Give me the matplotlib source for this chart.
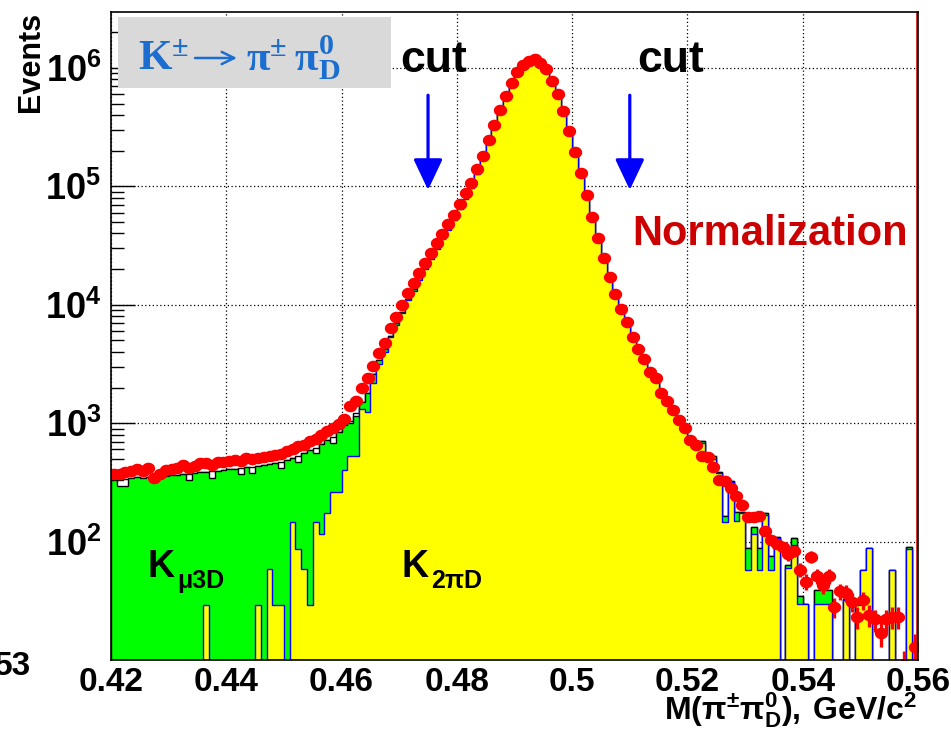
import numpy as np
import matplotlib.pyplot as plt
from matplotlib.patches import Rectangle
from matplotlib.path import Path
from matplotlib.ticker import FixedLocator, LogLocator, NullFormatter

plt.rcParams['font.family'] = ['Liberation Sans', 'DejaVu Sans']
plt.rcParams['font.weight'] = 'bold'
plt.rcParams['mathtext.fontset'] = 'custom'
plt.rcParams['mathtext.rm'] = 'Liberation Serif:bold'
plt.rcParams['mathtext.bf'] = 'Liberation Sans:bold'

# 140 bins of 1 MeV/c^2 between 0.42 and 0.56 GeV/c^2
edges = np.round(np.linspace(0.42, 0.56, 141), 4)
centers = 0.5 * (edges[:-1] + edges[1:])

data_counts = [
    375, 375, 385, 392, 410, 392, 419, 344, 375, 405,
    407, 419, 447, 419, 438, 461, 461, 447, 467, 470,
    476, 485, 476, 508, 498, 508, 519, 525, 542, 553,
    578, 605, 637, 659, 701, 736, 794, 853, 902, 977,
    1084, 1396, 1549, 1982, 2404, 3013, 3908, 4721, 6310, 7907,
    9886, 12589, 15136, 18621, 22646, 27290, 33113, 39811, 47863, 57544,
    70795, 87096, 107647, 139637, 181970, 246604, 330370, 442588, 583445, 751623,
    920450, 1059254, 1153453, 1191242, 1109175, 977237, 783430, 599791, 433511, 295121,
    196789, 130918, 84723, 55590, 36983, 24774, 17140, 12303, 9204, 7145,
    5333, 4227, 3483, 2685, 2388, 1799, 1528, 1282, 1072, 912,
    726, 650, 532, 519, 427, 333, 323, 284, 241, 205,
    161, 161, 164, 124, 103, 96, 90, 78, 83, 58,
    46, 74, 51, 43, 51, 28, 38, 37, 31, 23,
    32, 24, 22, 17, 22, 23, 23, 9, 0, 13,
]

# K -> pi pi0_D simulation (yellow)
k2pi_mc = [
    0, 0, 0, 0, 0, 0, 0, 0, 0, 0,
    0, 0, 0, 0, 0, 0, 29, 0, 0, 0,
    0, 0, 0, 0, 0, 29, 0, 59, 29, 29,
    0, 146, 87, 59, 29, 146, 117, 175, 262, 262,
    405, 525, 525, 1320, 1250, 2200, 3150, 4000, 5300, 6800,
    8500, 10900, 13200, 16300, 19900, 24200, 29500, 35700, 43000, 51800,
    63900, 78600, 97500, 127000, 166000, 226000, 305000, 414000, 550000, 712000,
    876000, 1012000, 1110000, 1160000, 1085000, 960000, 772000, 594000, 430000, 293000,
    196000, 130000, 84500, 55400, 36900, 24600, 17000, 12200, 9100, 7000,
    5300, 4150, 3400, 2650, 2300, 1780, 1480, 1220, 1040, 880,
    720, 640, 676, 500, 500, 380, 146, 316, 148, 174,
    58, 117, 58, 169, 58, 107, 0, 60, 94, 29.5,
    29.5, 0, 29.5, 29.5, 29.5, 0, 0, 32, 0, 29,
    58, 88, 0, 0, 0, 58, 0, 0, 87, 0,
]

# K_mu3 stacked on K2pi (green)
kmu3_stack = [
    330, 292, 292, 345, 350, 345, 352, 355, 350, 358,
    362, 368, 372, 330, 378, 385, 388, 345, 395, 400,
    410, 412, 370, 425, 380, 438, 442, 450, 462, 415,
    490, 510, 470, 555, 590, 560, 670, 720, 680, 840,
    960, 1000, 1150, 1500, 1800, 2600, 3450, 4200, 5460, 7000,
    8750, 11200, 13600, 16800, 20500, 24900, 30400, 36800, 44300, 53400,
    63900, 78600, 97500, 127000, 166000, 226000, 305000, 414000, 550000, 712000,
    876000, 1012000, 1110000, 1160000, 1085000, 960000, 772000, 594000, 430000, 293000,
    196000, 130000, 84500, 55400, 36900, 24600, 17000, 12200, 9100, 7000,
    5300, 4150, 3400, 2790, 2420, 1880, 1600, 1300, 1120, 960,
    770, 690, 708, 525, 525, 390, 164, 322, 178, 178,
    88, 132, 88, 175, 75, 110, 0, 63, 107, 35,
    30, 0, 39, 39, 39, 0, 0, 33, 0, 29,
    58, 88, 0, 0, 0, 58, 0, 0, 90, 0,
]

# full MC sum (black outline)
mc_total = [
    330, 333, 335, 345, 350, 345, 352, 355, 350, 358,
    362, 368, 372, 370, 378, 385, 388, 392, 395, 400,
    410, 412, 415, 425, 430, 438, 442, 450, 462, 470,
    490, 510, 530, 555, 590, 620, 670, 720, 770, 840,
    960, 1050, 1230, 1500, 1800, 2600, 3450, 4200, 5460, 7000,
    8750, 11200, 13600, 16800, 20500, 24900, 30400, 36800, 44300, 53400,
    63900, 78600, 97500, 127000, 166000, 226000, 305000, 414000, 550000, 712000,
    876000, 1012000, 1110000, 1160000, 1085000, 960000, 772000, 594000, 430000, 293000,
    196000, 130000, 84500, 55400, 36900, 24600, 17000, 12200, 9100, 7000,
    5300, 4150, 3400, 2790, 2420, 1880, 1600, 1300, 1120, 960,
    770, 690, 708, 525, 525, 390, 164, 322, 178, 178,
    88, 132, 88, 175, 75, 110, 0, 63, 107, 35,
    30, 0, 39, 39, 39, 0, 0, 33, 0, 29,
    58, 88, 0, 0, 0, 58, 0, 0, 90, 0,
]

x_ticks = [0.42, 0.44, 0.46, 0.48, 0.50, 0.52, 0.54, 0.56]
x_ticklabels = ['0.42', '0.44', '0.46', '0.48', '0.5', '0.52', '0.54', '0.56']
y_decades = [2, 3, 4, 5, 6]
cut_positions = [0.475, 0.51]

W, H = 951, 731


def px(x, y):
    # pixel position (from top-left) -> figure fraction
    return x / W, 1 - y / H


def positive(v):
    # empty bins go below the visible range on the log axis
    v = np.asarray(v, dtype=float)
    return np.where(v > 0, v, 1.0)


fig = plt.figure(figsize=(W / 100, H / 100), dpi=100)
ax = fig.add_axes([111 / W, 71 / H, 807 / W, 648 / H])
ax.set_yscale('log')
ax.set_xlim(0.42, 0.56)
ax.set_ylim(10, 2.97e6)
ax.set_axisbelow(True)

ax.stairs(positive(mc_total), edges, baseline=1, fill=True,
          facecolor='white', edgecolor='black', linewidth=1.0, zorder=2)
ax.stairs(positive(kmu3_stack), edges, baseline=1, fill=True,
          facecolor='#00ff00', edgecolor='black', linewidth=1.0, zorder=3)
ax.stairs(positive(k2pi_mc), edges, baseline=1, fill=True,
          facecolor='#ffff00', edgecolor='#0000ff', linewidth=1.0, zorder=4)

# data points, slightly wide ellipses like the original canvas
t = np.linspace(0, 2 * np.pi, 41)
ellipse = Path(np.column_stack([1.15 * np.cos(t), np.sin(t)]))
data = np.asarray(data_counts, dtype=float)
m = data > 0
ax.errorbar(centers[m], data[m], yerr=np.sqrt(data[m]), fmt='none',
            ecolor='#ff0000', elinewidth=2.4, capsize=0, zorder=6)
ax.plot(centers[m], data[m], linestyle='none', marker=ellipse, markersize=9.6,
        markeredgewidth=0, color='#ff0000', zorder=6.5)

ax.axvline(0.5598, color='#d01010', linewidth=1.2, zorder=7)

for xc in cut_positions:
    ax.annotate('', xy=(xc, 10 ** 4.97), xytext=(xc, 10 ** 5.77),
                arrowprops=dict(arrowstyle='-|>,head_length=0.95,head_width=0.45',
                                mutation_scale=20, color='#0000ff', lw=2.3,
                                shrinkA=0, shrinkB=0), zorder=8)

ax.grid(True, which='major', color='black', linestyle=(0, (1, 2)), linewidth=0.9)

ax.set_xticks(x_ticks)
ax.set_xticklabels(x_ticklabels)
ax.yaxis.set_major_locator(FixedLocator([10.0 ** d for d in y_decades]))
ax.set_yticklabels([r'$\mathbf{10^{%d}}$' % d for d in y_decades])
ax.yaxis.set_minor_locator(LogLocator(base=10, subs=np.arange(2, 10)))
ax.yaxis.set_minor_formatter(NullFormatter())
ax.tick_params(axis='x', which='both', length=0, pad=5, labelsize=24)
ax.tick_params(axis='y', which='major', direction='in', length=17, width=1.0,
               pad=7, labelsize=26, left=True, right=False)
ax.tick_params(axis='y', which='minor', direction='in', length=9, width=1.0,
               left=True, right=False)
for s in ax.spines.values():
    s.set_linewidth(1.2)
    s.set_zorder(10)

# process label box: K± -> π± π0_D
blue_txt = '#1c6dd0'
ax.add_patch(Rectangle(px(118, 88), 273 / W, 71 / H, transform=fig.transFigure,
                       facecolor='#d9d9d9', edgecolor='none', zorder=9, clip_on=False))
fig.text(*px(138, 70), r'$\mathrm{K^{\pm}}$', fontsize=31, color=blue_txt,
         va='baseline', ha='left')
fig.add_artist(plt.Annotation('', xy=px(237, 58), xytext=px(195, 58),
                              xycoords='figure fraction', textcoords='figure fraction',
                              arrowprops=dict(arrowstyle='->,head_length=0.45,head_width=0.22',
                                              mutation_scale=20, color=blue_txt, lw=1.8,
                                              shrinkA=0, shrinkB=0)))
fig.text(*px(246, 70), r'$\mathrm{\pi^{\pm}\,\pi^{0}_{D}}$', fontsize=31,
         color=blue_txt, va='baseline', ha='left')

fig.text(*px(400, 72), 'cut', fontsize=32, va='baseline', ha='left')
fig.text(*px(637, 72), 'cut', fontsize=32, va='baseline', ha='left')
fig.text(*px(632, 245), 'Normalization', fontsize=30, color='#cc0000',
         va='baseline', ha='left')

fig.text(*px(147, 577), 'K', fontsize=27, va='baseline', ha='left')
fig.text(*px(177, 588), 'μ3D', fontsize=18, va='baseline', ha='left')
fig.text(*px(401, 577), 'K', fontsize=27, va='baseline', ha='left')
fig.text(*px(431, 588), '2πD', fontsize=18, va='baseline', ha='left')

fig.text(*px(31, 12), 'Events', rotation=90, fontsize=22, ha='center', va='top')
fig.text(*px(917, 719), r'$\mathbf{M(\pi^{\pm}\pi^{0}_{D}),\,GeV/c^{2}}$',
         fontsize=23, ha='right', va='baseline')
fig.text(*px(31, 675), '53', fontsize=24, ha='right', va='baseline')

fig.savefig('out.png', dpi=100)
